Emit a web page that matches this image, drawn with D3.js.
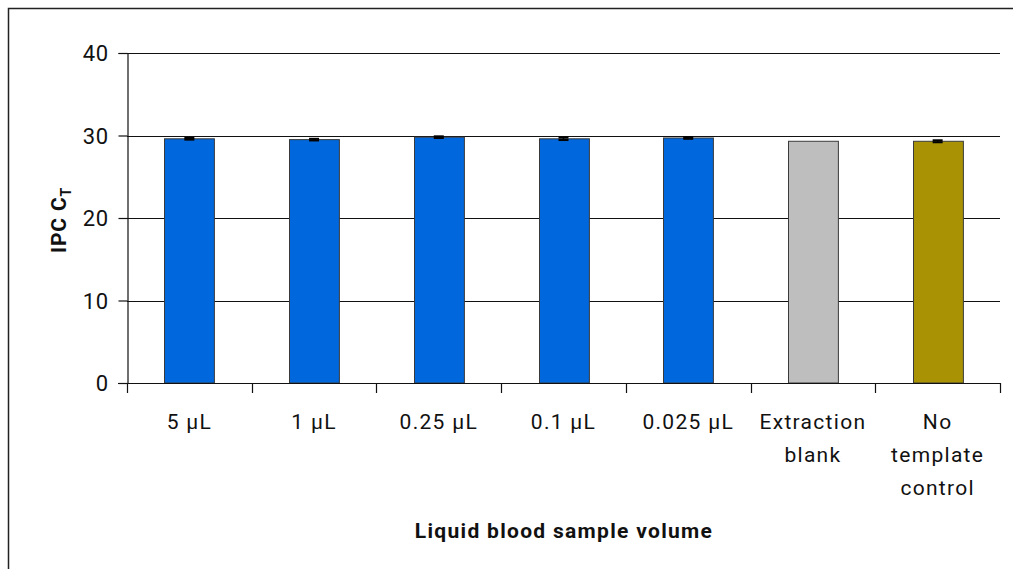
<!DOCTYPE html>
<html>
<head>
<meta charset="utf-8">
<script src="https://cdn.jsdelivr.net/npm/d3@7"></script>
<style>
  html, body { margin: 0; padding: 0; background: #fff; }
  svg { display: block; }
  text { font-family: Roboto, "DejaVu Sans", sans-serif; fill: #111; }
</style>
</head>
<body>
<svg id="chart" width="1013" height="569"></svg>
<script>
// Sample volumes and controls
const categories = [["5 µL"], ["1 µL"], ["0.25 µL"], ["0.1 µL"], ["0.025 µL"], ["Extraction", "blank"], ["No", "template", "control"]];
const ctValues = [29.6, 29.5, 29.8, 29.6, 29.7, 29.3, 29.3];
const ctErrors = [0.1, 0.1, 0.1, 0.15, 0.1, 0, 0.12];
const barColors = ["#0068DC", "#0068DC", "#0068DC", "#0068DC", "#0068DC", "#BEBEBE", "#A99304"];
const yTicks = [0, 10, 20, 30, 40];

const svg = d3.select("#chart");
const margin = { left: 127, right: 1000, top: 53, bottom: 383 };

// outer frame
svg.append("rect")
  .attr("x", 8.5).attr("y", 8.5)
  .attr("width", 1100).attr("height", 700)
  .attr("fill", "none").attr("stroke", "#222").attr("stroke-width", 1.5);

const x = d3.scaleBand()
  .domain(d3.range(categories.length))
  .range([margin.left, margin.right])
  .paddingInner(0).paddingOuter(0);

const y = d3.scaleLinear().domain([0, 40]).range([margin.bottom, margin.top]);

// horizontal gridlines
svg.append("g")
  .selectAll("line")
  .data(yTicks.filter(d => d > 0))
  .join("line")
  .attr("x1", margin.left).attr("x2", margin.right)
  .attr("y1", d => Math.round(y(d)) + 0.5).attr("y2", d => Math.round(y(d)) + 0.5)
  .attr("stroke", "#111").attr("stroke-width", 1.2);

// bars
const barW = x.bandwidth() * 0.4;
svg.append("g")
  .selectAll("rect")
  .data(ctValues)
  .join("rect")
  .attr("x", (d, i) => Math.round(x(i) + (x.bandwidth() - barW) / 2) + 0.5)
  .attr("y", d => y(d))
  .attr("width", barW)
  .attr("height", d => y(0) - y(d))
  .attr("fill", (d, i) => barColors[i])
  .attr("stroke", "#3a3a3a").attr("stroke-width", 1);

// error bars
const errG = svg.append("g");
ctValues.forEach((v, i) => {
  const e = ctErrors[i];
  if (!e) return;
  const cx = x(i) + x.bandwidth() / 2;
  errG.append("line")
    .attr("x1", cx).attr("x2", cx)
    .attr("y1", y(v - e)).attr("y2", y(v + e))
    .attr("stroke", "#000").attr("stroke-width", 1.5);
  [v - e, v + e].forEach(t => {
    errG.append("line")
      .attr("x1", cx - 5).attr("x2", cx + 5)
      .attr("y1", y(t)).attr("y2", y(t))
      .attr("stroke", "#000").attr("stroke-width", 2);
  });
});

// y axis
const yAxis = svg.append("g")
  .attr("transform", `translate(${margin.left + 0.5},0)`)
  .call(d3.axisLeft(y).tickValues(yTicks).tickSize(9).tickPadding(10));
yAxis.select(".domain").attr("stroke", "#111").attr("stroke-width", 1.2);
yAxis.selectAll(".tick line").attr("stroke", "#111").attr("stroke-width", 1.2);
yAxis.selectAll(".tick text")
  .style("font-size", "22px").style("letter-spacing", "0.5px").attr("fill", "#111")
  .attr("dy", "0.36em");

// x axis
const xAxisLine = svg.append("g");
xAxisLine.append("line")
  .attr("x1", margin.left - 9).attr("x2", margin.right)
  .attr("y1", margin.bottom + 0.5).attr("y2", margin.bottom + 0.5)
  .attr("stroke", "#111").attr("stroke-width", 1.2);
xAxisLine.selectAll("line.tk")
  .data(d3.range(categories.length + 1))
  .join("line")
  .attr("class", "tk")
  .attr("x1", i => Math.round(i < categories.length ? x(i) : margin.right) + 0.5)
  .attr("x2", i => Math.round(i < categories.length ? x(i) : margin.right) + 0.5)
  .attr("y1", margin.bottom).attr("y2", margin.bottom + 10)
  .attr("stroke", "#111").attr("stroke-width", 1.2);

// category labels
const labG = svg.append("g");
categories.forEach((lines, i) => {
  const t = labG.append("text")
    .attr("x", x(i) + x.bandwidth() / 2)
    .attr("y", 429)
    .attr("text-anchor", "middle")
    .style("font-size", "21px")
    .style("letter-spacing", "1.3px");
  lines.forEach((ln, j) => {
    t.append("tspan")
      .attr("x", x(i) + x.bandwidth() / 2)
      .attr("dy", j === 0 ? 0 : 33)
      .text(ln);
  });
});

// axis titles
svg.append("text")
  .attr("x", 564).attr("y", 538)
  .attr("text-anchor", "middle")
  .style("font-size", "21px").style("font-weight", "bold")
  .style("letter-spacing", "1.3px")
  .text("Liquid blood sample volume");

const yt = svg.append("text")
  .attr("transform", "translate(66,220) rotate(-90)")
  .attr("text-anchor", "middle")
  .style("font-size", "21px").style("font-weight", "bold")
  .style("letter-spacing", "0.8px");
yt.append("tspan").text("IPC C");
yt.append("tspan").attr("dy", 5).style("font-size", "14px").text("T");
</script>
</body>
</html>
